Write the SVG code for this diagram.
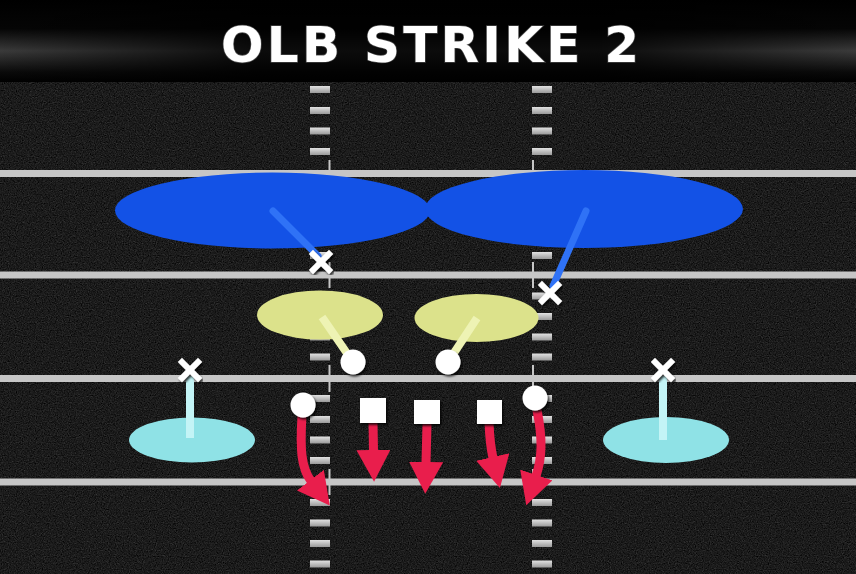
<svg xmlns="http://www.w3.org/2000/svg" width="856" height="574" viewBox="0 0 856 574">
<defs>
  <filter id="noise" x="0" y="0" width="100%" height="100%" filterUnits="objectBoundingBox" color-interpolation-filters="sRGB">
    <feTurbulence type="fractalNoise" baseFrequency="0.85" numOctaves="3" seed="4" result="n"/>
    <feColorMatrix in="n" type="matrix" values="0.33 0.33 0.33 0 0  0.33 0.33 0.33 0 0  0.33 0.33 0.33 0 0  0 0 0 0 1" result="g"/>
    <feComponentTransfer in="g">
      <feFuncR type="linear" slope="0.42" intercept="-0.1"/>
      <feFuncG type="linear" slope="0.42" intercept="-0.1"/>
      <feFuncB type="linear" slope="0.42" intercept="-0.1"/>
    </feComponentTransfer>
  </filter>
  <filter id="shadow" x="-30%" y="-30%" width="160%" height="160%">
    <feDropShadow dx="1.5" dy="2" stdDeviation="1.2" flood-color="#000" flood-opacity="0.8"/>
  </filter>
  <linearGradient id="barV" x1="0" y1="0" x2="0" y2="1">
    <stop offset="0" stop-color="#000"/>
    <stop offset="0.35" stop-color="#050505"/>
    <stop offset="0.62" stop-color="#3a3a3a"/>
    <stop offset="0.88" stop-color="#0a0a0a"/>
    <stop offset="1" stop-color="#000"/>
  </linearGradient>
  <linearGradient id="barH" x1="0" y1="0" x2="1" y2="0">
    <stop offset="0" stop-color="#000" stop-opacity="0"/>
    <stop offset="0.3" stop-color="#000" stop-opacity="0.8"/>
    <stop offset="0.7" stop-color="#000" stop-opacity="0.8"/>
    <stop offset="1" stop-color="#000" stop-opacity="0"/>
  </linearGradient>
  <linearGradient id="hashG" x1="0" y1="0" x2="0" y2="1">
    <stop offset="0" stop-color="#e2e2e2"/>
    <stop offset="1" stop-color="#9a9a9a"/>
  </linearGradient>
  <marker id="head" markerUnits="userSpaceOnUse" markerWidth="34" markerHeight="34" refX="1" refY="16" orient="auto" viewBox="0 0 32 32">
    <path d="M0,0 L30,16 L0,32 Z" fill="#e91e4c"/>
  </marker>
  <style>
    .yard{fill:#c6c6c6}
    .hash{fill:url(#hashG)}
    .tick{fill:#c6c6c6}
    .deep{fill:#1352e6}
    .deepl{stroke:#2f72f6;stroke-width:7;stroke-linecap:round;fill:none}
    .hook{fill:#dce28b}
    .hookl{stroke:#eef3b4;stroke-width:8;stroke-linecap:butt;fill:none}
    .flat{fill:#8fe2e6}
    .flatl{stroke:#c3f4f6;stroke-width:8;fill:none}
    .x{stroke:#fff;stroke-width:6;stroke-linecap:square;fill:none;filter:url(#shadow)}
    .man{fill:#fff;filter:url(#shadow)}
    .run{stroke:#e91e4c;stroke-width:9;fill:none;marker-end:url(#head)}
    .title{font-family:"DejaVu Sans","Liberation Sans",sans-serif;font-weight:bold;font-size:50px;fill:#fff;stroke:#444;stroke-width:1.5;paint-order:stroke}
  </style>
</defs>

<!-- field -->
<rect x="0" y="0" width="856" height="574" fill="#1c1c1c"/>
<rect x="0" y="80" width="856" height="494" filter="url(#noise)"/>

<!-- yard lines -->
<g id="yardlines">
  <rect class="yard" x="0" y="170" width="856" height="7"/>
  <rect class="yard" x="0" y="271.5" width="856" height="7"/>
  <rect class="yard" x="0" y="375" width="856" height="7"/>
  <rect class="yard" x="0" y="478.5" width="856" height="7"/>
</g>
<g id="ticks">
  <rect class="tick" x="328.5" y="160" width="2" height="28"/>
  <rect class="tick" x="532" y="160" width="2" height="28"/>
  <rect class="tick" x="328.5" y="262" width="2" height="26"/>
  <rect class="tick" x="532" y="262" width="2" height="26"/>
  <rect class="tick" x="328.5" y="365" width="2" height="27"/>
  <rect class="tick" x="532" y="365" width="2" height="27"/>
  <rect class="tick" x="328.5" y="469" width="2" height="26"/>
  <rect class="tick" x="532" y="469" width="2" height="26"/>
</g>
<g id="hashes">
  <rect class="hash" x="310" y="86" width="20" height="7"/><rect class="hash" x="532" y="86" width="20" height="7"/>
  <rect class="hash" x="310" y="107" width="20" height="7"/><rect class="hash" x="532" y="107" width="20" height="7"/>
  <rect class="hash" x="310" y="127.5" width="20" height="7"/><rect class="hash" x="532" y="127.5" width="20" height="7"/>
  <rect class="hash" x="310" y="148" width="20" height="7"/><rect class="hash" x="532" y="148" width="20" height="7"/>
  <rect class="hash" x="310" y="190.5" width="20" height="7"/><rect class="hash" x="532" y="190.5" width="20" height="7"/>
  <rect class="hash" x="310" y="211" width="20" height="7"/><rect class="hash" x="532" y="211" width="20" height="7"/>
  <rect class="hash" x="310" y="231.5" width="20" height="7"/><rect class="hash" x="532" y="231.5" width="20" height="7"/>
  <rect class="hash" x="310" y="252" width="20" height="7"/><rect class="hash" x="532" y="252" width="20" height="7"/>
  <rect class="hash" x="310" y="292.5" width="20" height="7"/><rect class="hash" x="532" y="292.5" width="20" height="7"/>
  <rect class="hash" x="310" y="313" width="20" height="7"/><rect class="hash" x="532" y="313" width="20" height="7"/>
  <rect class="hash" x="310" y="333.5" width="20" height="7"/><rect class="hash" x="532" y="333.5" width="20" height="7"/>
  <rect class="hash" x="310" y="353.5" width="20" height="7"/><rect class="hash" x="532" y="353.5" width="20" height="7"/>
  <rect class="hash" x="310" y="395" width="20" height="7"/><rect class="hash" x="532" y="395" width="20" height="7"/>
  <rect class="hash" x="310" y="416" width="20" height="7"/><rect class="hash" x="532" y="416" width="20" height="7"/>
  <rect class="hash" x="310" y="436.5" width="20" height="7"/><rect class="hash" x="532" y="436.5" width="20" height="7"/>
  <rect class="hash" x="310" y="457" width="20" height="7"/><rect class="hash" x="532" y="457" width="20" height="7"/>
  <rect class="hash" x="310" y="499" width="20" height="7"/><rect class="hash" x="532" y="499" width="20" height="7"/>
  <rect class="hash" x="310" y="519.5" width="20" height="7"/><rect class="hash" x="532" y="519.5" width="20" height="7"/>
  <rect class="hash" x="310" y="540" width="20" height="7"/><rect class="hash" x="532" y="540" width="20" height="7"/>
  <rect class="hash" x="310" y="560.5" width="20" height="7"/><rect class="hash" x="532" y="560.5" width="20" height="7"/>
</g>

<!-- title bar -->
<g id="titlebar">
  <rect x="0" y="0" width="856" height="82" fill="url(#barV)"/>
  <rect x="0" y="0" width="856" height="82" fill="url(#barH)"/>
  <text class="title" x="430" y="62" text-anchor="middle" textLength="418" lengthAdjust="spacing">OLB STRIKE 2</text>
</g>

<!-- zones -->
<g id="zones">
  <ellipse id="zone-deep-left" class="deep" cx="272.5" cy="210.5" rx="157.5" ry="38"/>
  <ellipse id="zone-deep-right" class="deep" cx="584" cy="209" rx="159" ry="39"/>
  <ellipse id="zone-hook-left" class="hook" cx="320" cy="315" rx="63" ry="24.5"/>
  <ellipse id="zone-hook-right" class="hook" cx="476.5" cy="318" rx="62" ry="24"/>
  <ellipse id="zone-flat-left" class="flat" cx="192" cy="440" rx="63" ry="22.5"/>
  <ellipse id="zone-flat-right" class="flat" cx="666" cy="440" rx="63" ry="23"/>
</g>

<!-- connectors -->
<g id="connectors">
  <path class="deepl" d="M273,211 L318,256"/>
  <path class="deepl" d="M586,211 L553,286"/>
  <path class="hookl" d="M322,317 L353,362"/>
  <path class="hookl" d="M477,318 L448,362"/>
  <path class="flatl" d="M190,376 L190,438"/>
  <path class="flatl" d="M663,376 L663,440"/>
  <path class="run" d="M302,416 C300,448 301,468 311,481"/>
  <path class="run" d="M373,423 L373.5,451"/>
  <path class="run" d="M427,423 L426,463"/>
  <path class="run" d="M489,423 Q490,445 493,458"/>
  <path class="run" d="M537,410 C543,440 542,458 536,476"/>
</g>

<!-- defenders -->
<g id="def-deep-left"><path class="x" d="M313,254 L329,270 M329,254 L313,270"/></g>
<g id="def-deep-right"><path class="x" d="M542,285 L558,301 M558,285 L542,301"/></g>
<g id="def-hook-left"><circle class="man" cx="353" cy="362" r="12.5"/></g>
<g id="def-hook-right"><circle class="man" cx="448" cy="362" r="12.5"/></g>
<g id="def-flat-left"><path class="x" d="M182,362 L198,378 M198,362 L182,378"/></g>
<g id="def-flat-right"><path class="x" d="M655,362 L671,378 M671,362 L655,378"/></g>

<!-- offense -->
<g id="off-left"><circle class="man" cx="303" cy="405" r="12.5"/></g>
<g id="off-1"><rect class="man" x="360" y="398" width="26" height="25"/></g>
<g id="off-2"><rect class="man" x="414" y="400" width="26" height="24"/></g>
<g id="off-3"><rect class="man" x="477" y="400" width="25" height="24"/></g>
<g id="off-right"><circle class="man" cx="535" cy="398" r="12.5"/></g>
</svg>
